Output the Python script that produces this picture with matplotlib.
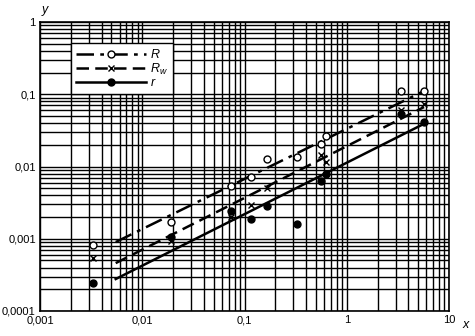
import numpy as np
import matplotlib
matplotlib.use('Agg')
import matplotlib.pyplot as plt
from matplotlib.ticker import FixedLocator, LogLocator, NullFormatter

plt.rcParams['font.family'] = ['Liberation Sans', 'DejaVu Sans']
plt.rcParams['mathtext.fontset'] = 'custom'
plt.rcParams['mathtext.rm'] = 'Liberation Sans'
plt.rcParams['mathtext.it'] = 'Liberation Sans:italic'

# Pontos medidos
x_pts = [0.0033, 0.0191, 0.074, 0.116, 0.167, 0.328, 0.556, 0.631, 3.4, 5.7]
R_pts = [0.00082, 0.0017, 0.0054, 0.0071, 0.0127, 0.0134, 0.0205, 0.0267, 0.111, 0.111]
x_rw = [0.0033, 0.0191, 0.074, 0.116, 0.167, 0.556, 0.631, 3.4, 5.7]
Rw_pts = [0.00054, 0.00092, 0.0020, 0.0029, 0.0051, 0.0144, 0.0117, 0.0605, 0.073]
r_pts = [0.000244, 0.00106, 0.00245, 0.00188, 0.00284, 0.0016, 0.0063, 0.0079, 0.053, 0.041]

# Retas ajustadas (extremos)
x_fit = [0.0055, 5.7]
R_fit = [0.0009, 0.111]
Rw_fit = [0.00046, 0.0665]
r_fit = [0.000277, 0.039]

x_ticks = [0.001, 0.01, 0.1, 1, 10]
x_labels = ['0,001', '0,01', '0,1', '1', '10']
y_ticks = [0.0001, 0.001, 0.01, 0.1, 1]
y_labels = ['0,0001', '0,001', '0,01', '0,1', '1']

fig = plt.figure(figsize=(4.75, 3.36), dpi=100)
ax = fig.add_axes([40 / 475, 25 / 336, 409 / 475, 289 / 336])
ax.set_xscale('log')
ax.set_yscale('log')
ax.set_xlim(0.001, 10)
ax.set_ylim(0.0001, 1)

ax.xaxis.set_major_locator(FixedLocator(x_ticks))
ax.yaxis.set_major_locator(FixedLocator(y_ticks))
ax.set_xticklabels(x_labels)
ax.set_yticklabels(y_labels)
ax.xaxis.set_minor_locator(LogLocator(base=10, subs=np.arange(2, 10)))
ax.yaxis.set_minor_locator(LogLocator(base=10, subs=np.arange(2, 10)))
ax.xaxis.set_minor_formatter(NullFormatter())
ax.yaxis.set_minor_formatter(NullFormatter())
ax.tick_params(which='both', length=0, labelsize=8, pad=3)
ax.grid(which='both', color='black', linewidth=1.0)
for s in ax.spines.values():
    s.set_linewidth(1.2)

lw = 1.8
ax.plot(x_fit, R_fit, color='black', lw=lw, dashes=(7, 2.5, 1.5, 2.5))
ax.plot(x_fit, Rw_fit, color='black', lw=lw, dashes=(5, 2.5))
ax.plot(x_fit, r_fit, color='black', lw=lw)

ax.plot(x_pts, R_pts, 'o', ms=5, mfc='white', mec='black', mew=1.0, zorder=5)
ax.plot(x_rw, Rw_pts, 'x', ms=5, color='black', mew=1.0, zorder=5)
ax.plot(x_pts, r_pts, 'o', ms=5, color='black', zorder=5)

h1, = ax.plot([], [], color='black', lw=lw, dashes=(7, 2.5, 1.5, 2.5), marker='o',
              ms=5, mfc='white', mec='black', mew=1.0)
h2, = ax.plot([], [], color='black', lw=lw, dashes=(5, 2.5), marker='x', ms=5, mew=1.0)
h3, = ax.plot([], [], color='black', lw=lw, marker='o', ms=5)
leg = ax.legend([h1, h2, h3], ['$R$', '$R_w$', '$r$'], loc='upper left',
                bbox_to_anchor=(0.076, 0.927), borderaxespad=0, fontsize=9,
                handlelength=5.6, numpoints=1, labelspacing=0.05, fancybox=False,
                framealpha=1, edgecolor='black', borderpad=0.4, handletextpad=0.3)
leg.get_frame().set_linewidth(1.0)

fig.text(45 / 475, 1 - 10 / 336, 'y', fontsize=9, style='italic', ha='center', va='center')
fig.text(466 / 475, 1 - 325 / 336, 'x', fontsize=9, style='italic', ha='center', va='center')

plt.savefig('out.png', dpi=100)
